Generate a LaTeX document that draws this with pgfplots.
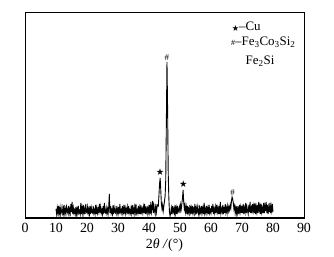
\documentclass[border=0pt]{standalone}
\usepackage{pgfplots}
\pgfplotsset{compat=1.18}
\usepackage{amssymb}
\usepackage{fontspec}
\setmainfont{Liberation Serif}
\begin{document}
\begin{tikzpicture}
\begin{axis}[scale only axis, width=279bp, height=206bp,
  xmin=0, xmax=90, ymin=0, ymax=206,
  xtick={0,10,...,90}, ytick=\empty,
  major tick length=0pt,
  axis line style={line width=0.7pt},
  tick label style={font=\fontsize{14}{16}\selectfont},
  xticklabel style={yshift=-2pt},
  /pgf/number format/assume math mode=true,
  xlabel={2\textit{θ} \textit{/}(°)},
  xlabel style={font=\fontsize{14}{16}\selectfont, yshift=1pt},
  clip=false]
\addplot[black, line width=0.9pt] table {
10.0 9
10.2 4
10.4 10
10.6 5
10.8 12
11.0 4
11.2 9
11.4 4
11.6 11
11.8 6
12.0 4
12.2 10
12.4 5
12.6 13
12.8 5
13.0 9
13.2 4
13.4 11
13.6 7
13.8 5
14.0 12
14.2 4
14.4 9
14.6 5
14.8 14
15.0 6
15.2 16
15.4 4
15.6 10
15.8 5
16.0 8
16.2 4
16.4 11
16.6 4
16.8 9
17.0 5
17.2 12
17.4 5
17.6 7
17.8 4
18.0 15
18.2 4
18.4 10
18.6 5
18.8 13
19.0 5
19.2 9
19.4 4
19.6 14
19.8 6
20.0 5
20.2 11
20.4 5
20.6 9
20.8 4
21.0 12
21.2 4
21.4 10
21.6 6
21.8 5
22.0 12
22.2 5
22.4 8
22.6 4
22.8 13
23.0 4
23.2 10
23.4 5
23.6 9
23.8 6
24.0 14
24.2 5
24.4 11
24.6 5
24.8 8
25.0 4
25.2 12
25.4 4
25.6 15
25.8 6
26.0 5
26.2 10
26.4 5
26.6 9
26.8 4
27.0 11
27.2 24
27.4 5
27.6 12
27.8 5
28.0 8
28.2 4
28.4 13
28.6 4
28.8 10
29.0 6
29.2 5
29.4 12
29.6 5
29.8 9
30.0 4
30.2 11
30.4 4
30.6 14
30.8 6
31.0 8
31.2 5
31.4 12
31.6 5
31.8 10
32.0 4
32.2 13
32.4 5
32.6 9
32.8 6
33.0 11
33.2 4
33.4 12
33.6 5
33.8 8
34.0 5
34.2 10
34.4 5
34.6 13
34.8 4
35.0 9
35.2 4
35.4 11
35.6 6
35.8 14
36.0 5
36.2 8
36.4 5
36.6 12
36.8 4
37.0 10
37.2 4
37.4 13
37.6 6
37.8 9
38.0 5
38.2 11
38.4 5
38.6 14
38.8 4
39.0 9
39.2 6
39.4 12
39.6 5
39.8 10
40.0 5
40.2 13
40.4 4
40.6 16
40.8 6
41.0 10
41.2 17
41.4 5
41.6 12
41.8 7
42.0 4
42.2 14
42.4 6
42.6 11
42.8 13
43.0 12
43.2 22
43.4 34
43.6 40
43.8 28
44.0 14
44.2 9
44.4 13
44.6 7
44.8 12
45.0 17
45.2 22
45.4 38
45.6 95
45.8 156
46.0 110
46.2 45
46.4 20
46.6 6
46.8 2
47.0 5
47.2 10
47.4 4
47.6 12
47.8 6
48.0 9
48.2 5
48.4 13
48.6 5
48.8 10
49.0 4
49.2 12
49.4 6
49.6 8
49.8 11
50.0 5
50.2 13
50.4 9
50.6 14
50.8 20
51.0 28
51.2 16
51.4 9
51.6 13
51.8 6
52.0 11
52.2 4
52.4 12
52.6 5
52.8 9
53.0 5
53.2 13
53.4 6
53.6 10
53.8 4
54.0 12
54.2 5
54.4 9
54.6 5
54.8 14
55.0 6
55.2 10
55.4 4
55.6 11
55.8 7
56.0 4
56.2 13
56.4 5
56.6 9
56.8 5
57.0 12
57.2 6
57.4 10
57.6 4
57.8 15
58.0 5
58.2 9
58.4 5
58.6 12
58.8 6
59.0 10
59.2 4
59.4 13
59.6 5
59.8 8
60.0 5
60.2 12
60.4 6
60.6 14
60.8 4
61.0 9
61.2 5
61.4 11
61.6 5
61.8 13
62.0 6
62.2 10
62.4 4
62.6 12
62.8 4
63.0 16
63.2 5
63.4 9
63.6 6
63.8 13
64.0 4
64.2 11
64.4 5
64.6 14
64.8 6
65.0 10
65.2 5
65.4 12
65.6 7
65.8 11
66.0 8
66.2 13
66.4 10
66.6 17
66.8 21
67.0 19
67.2 15
67.4 9
67.6 12
67.8 5
68.0 10
68.2 5
68.4 12
68.6 5
68.8 9
69.0 4
69.2 13
69.4 6
69.6 11
69.8 5
70.0 12
70.2 5
70.4 14
70.6 4
70.8 10
71.0 6
71.2 15
71.4 5
71.6 11
71.8 7
72.0 4
72.2 13
72.4 6
72.6 16
72.8 5
73.0 10
73.2 5
73.4 14
73.6 7
73.8 12
74.0 5
74.2 15
74.4 4
74.6 11
74.8 6
75.0 13
75.2 5
75.4 16
75.6 8
75.8 12
76.0 4
76.2 14
76.4 6
76.6 10
76.8 5
77.0 15
77.2 5
77.4 12
77.6 7
77.8 16
78.0 5
78.2 13
78.4 4
78.6 11
78.8 6
79.0 15
79.2 5
79.4 12
79.6 7
79.8 14
80.0 6
};
\draw[line width=1.3pt] (rel axis cs:0,0) -- (rel axis cs:1,0);
\node[font=\fontsize{9}{10}\selectfont, anchor=south, inner sep=1pt] at (axis cs:45.8,156) {\#};
\node[font=\fontsize{9}{10}\selectfont, anchor=south, inner sep=1pt] at (axis cs:67,21) {\#};
\node[font=\fontsize{8}{9}\selectfont, anchor=south, inner sep=1pt] at (axis cs:43.6,41) {$\bigstar$};
\node[font=\fontsize{8}{9}\selectfont, anchor=south, inner sep=1pt] at (axis cs:51.1,29) {$\bigstar$};
\node[font=\fontsize{13}{15}\selectfont, anchor=west, inner sep=0pt] at (rel axis cs:0.742,0.927) {{\fontsize{7}{8}\selectfont$\bigstar$}--Cu};
\node[font=\fontsize{13}{15}\selectfont, anchor=west, inner sep=0pt] at (rel axis cs:0.738,0.854) {{\fontsize{8}{9}\selectfont\#}--Fe\textsubscript{3}Co\textsubscript{3}Si\textsubscript{2}};
\node[font=\fontsize{13}{15}\selectfont, anchor=west, inner sep=0pt] at (rel axis cs:0.79,0.762) {Fe\textsubscript{2}Si};
\end{axis}
\pgfresetboundingbox
\path[use as bounding box] ([xshift=-25bp,yshift=-39bp]current axis.south west) rectangle ([xshift=30bp,yshift=12bp]current axis.north east);
\end{tikzpicture}
\end{document}
